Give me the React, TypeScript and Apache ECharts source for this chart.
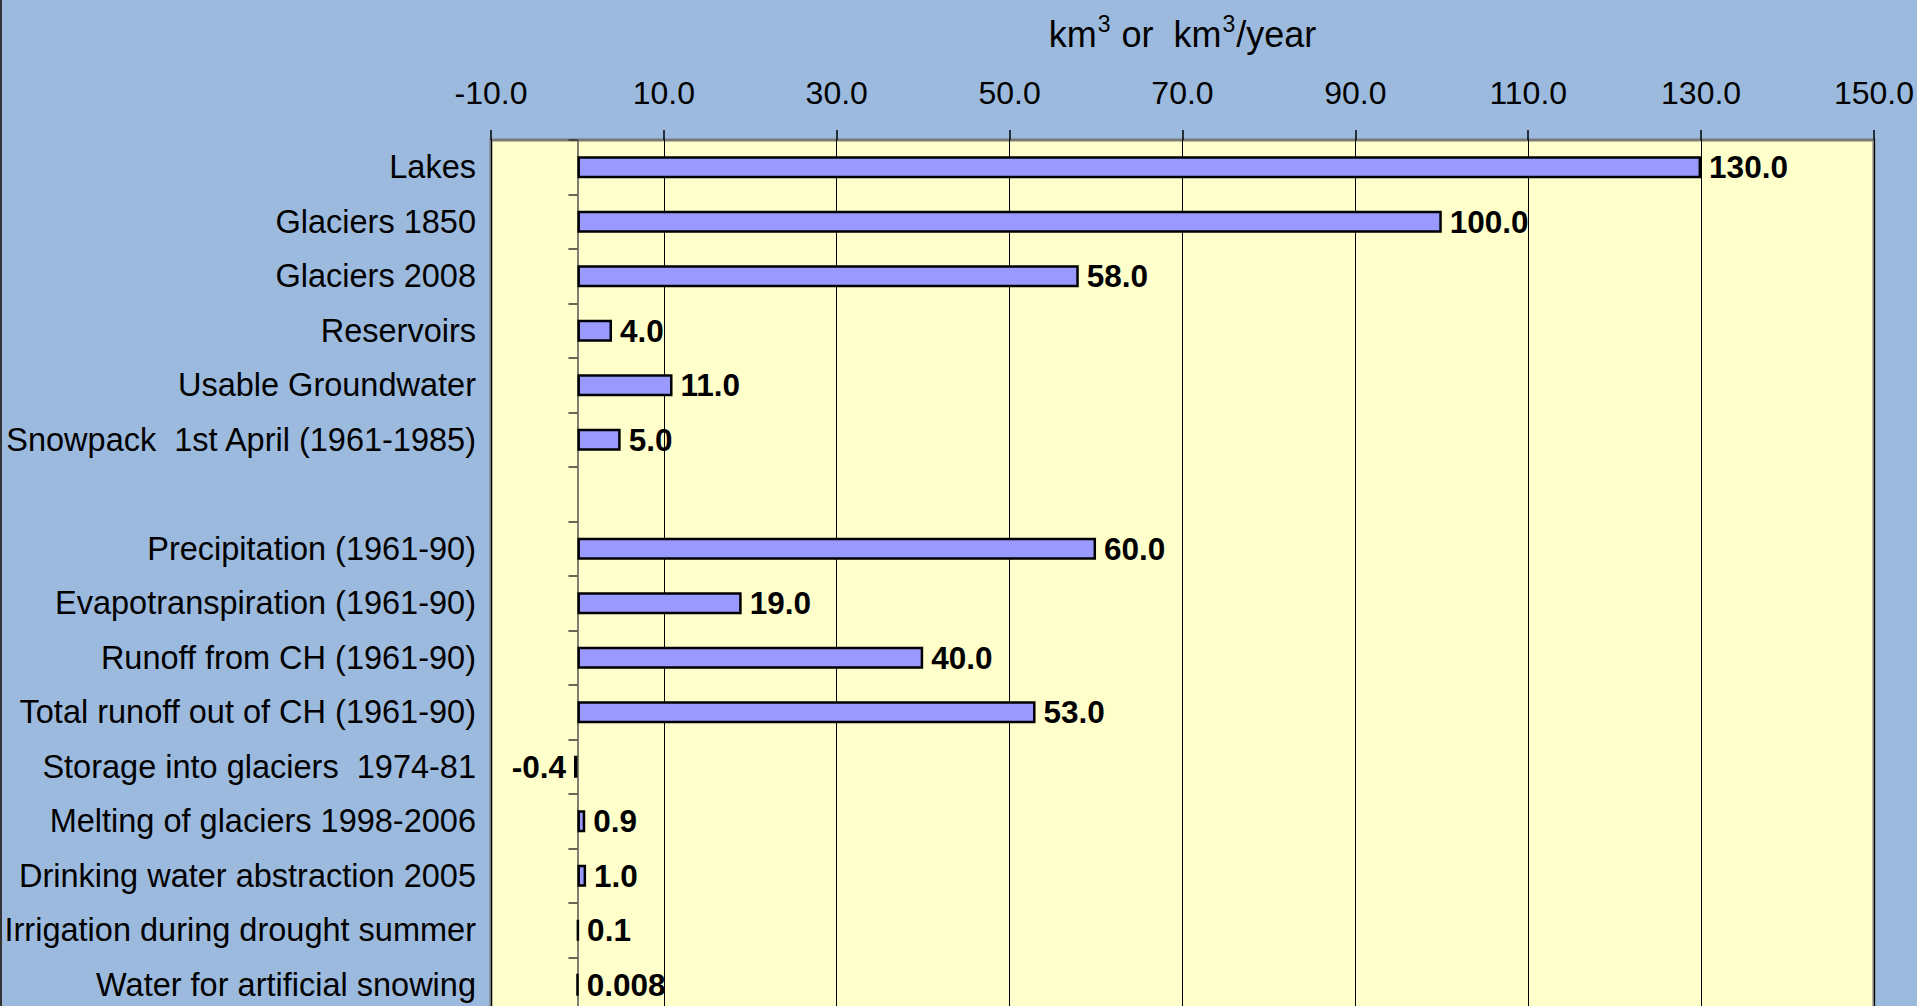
import React, { useEffect, useRef } from "react";
import * as echarts from "echarts";

const categories: string[] = [
  "Lakes",
  "Glaciers 1850",
  "Glaciers 2008",
  "Reservoirs",
  "Usable Groundwater",
  "Snowpack  1st April (1961-1985)",
  "",
  "Precipitation (1961-90)",
  "Evapotranspiration (1961-90)",
  "Runoff from CH (1961-90)",
  "Total runoff out of CH (1961-90)",
  "Storage into glaciers  1974-81",
  "Melting of glaciers 1998-2006",
  "Drinking water abstraction 2005",
  "Irrigation during drought summer",
  "Water for artificial snowing",
];

const values: (number | null)[] = [
  130, 100, 58, 4, 11, 5, null, 60, 19, 40, 53, -0.4, 0.9, 1.0, 0.1, 0.008,
];

const xTickValues: number[] = [-10, 10, 30, 50, 70, 90, 110, 130, 150];

const FONT = 'Arial, "Liberation Sans", Helvetica, sans-serif';

export default function App() {
  const ref = useRef<HTMLDivElement>(null);

  useEffect(() => {
    if (!ref.current) return;
    const chart = echarts.init(ref.current, undefined, { renderer: "svg" });

    const seriesData = values.map((v) =>
      v == null
        ? "-"
        : v < 0
        ? { value: v, label: { position: "left" } }
        : { value: v }
    );

    chart.setOption({
      animation: false,
      backgroundColor: "#9CBADD",
      textStyle: { fontFamily: FONT },
      graphic: [
        {
          type: "rect",
          left: 0,
          top: 0,
          shape: { width: 2, height: 1100 },
          style: { fill: "#333333" },
          silent: true,
        },
      ],
      grid: {
        left: 491,
        right: 43,
        top: 140,
        height: 872,
        show: true,
        backgroundColor: "#FFFFCC",
        borderColor: "#7A7A7A",
        borderWidth: 3,
      },
      xAxis: {
        type: "value",
        position: "top",
        min: -10,
        max: 150,
        name: "{n|km}{s|3}{n| or  km}{s|3}{n|/year}",
        nameLocation: "middle",
        nameGap: 88,
        nameTextStyle: {
          color: "#000",
          rich: {
            n: { fontSize: 36, fontFamily: FONT, color: "#000", lineHeight: 40, verticalAlign: "bottom" },
            s: { fontSize: 23, fontFamily: FONT, color: "#000", lineHeight: 40, verticalAlign: "top", padding: [0, 1, 0, 1] },
          },
        },
        axisLine: { show: false },
        axisTick: {
          show: true,
          inside: false,
          length: 10,
          customValues: xTickValues,
          lineStyle: { color: "#000", width: 1.5 },
        },
        axisLabel: {
          show: true,
          customValues: xTickValues,
          formatter: (v: number) => v.toFixed(1),
          fontSize: 32,
          color: "#000",
          fontFamily: FONT,
          margin: 31,
        },
        splitLine: { show: true, lineStyle: { color: "#000", width: 1 } },
      },
      yAxis: [
        {
          type: "category",
          data: categories,
          inverse: true,
          position: "left",
          axisLine: { show: false, onZero: false },
          axisTick: { show: false },
          axisLabel: {
            fontSize: 32.5,
            color: "#000",
            fontFamily: FONT,
            margin: 15,
            interval: 0,
          },
          splitLine: { show: false },
        },
        {
          type: "category",
          data: categories,
          inverse: true,
          position: "left",
          axisLine: { show: true, onZero: true, lineStyle: { color: "#555", width: 1.5 } },
          axisTick: { show: true, inside: false, length: 9, alignWithLabel: false, interval: 0, lineStyle: { color: "#333", width: 1.5 } },
          axisLabel: { show: false },
          splitLine: { show: false },
        },
      ],
      series: [
        {
          type: "bar",
          yAxisIndex: 0,
          data: seriesData,
          barWidth: 22,
          itemStyle: { color: "#9999FF", borderColor: "#000", borderWidth: 2.5 },
          label: {
            show: true,
            position: "right",
            distance: 8,
            fontSize: 31.5,
            fontWeight: "bold",
            color: "#000",
            fontFamily: FONT,
            formatter: (p: any) => {
              const v = p.value;
              if (v == null || v === "-") return "";
              return Math.abs(v) < 0.05 ? String(v) : Number(v).toFixed(1);
            },
          },
        },
      ],
    });

    return () => chart.dispose();
  }, []);

  return (
    <div
      ref={ref}
      style={{ position: "fixed", left: 0, top: 0, width: 1917, height: 1040 }}
    />
  );
}
